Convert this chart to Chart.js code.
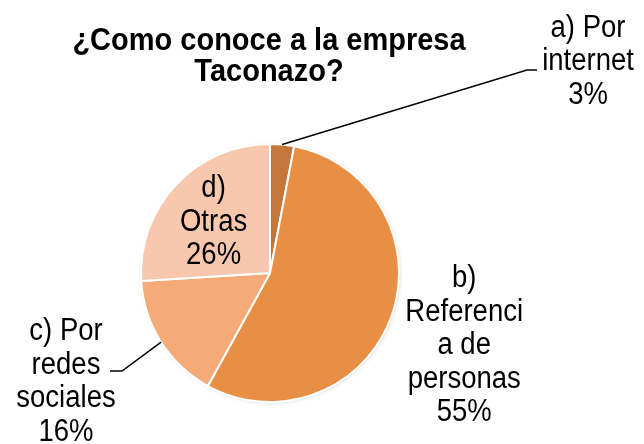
<!DOCTYPE html>
<html>
<head>
<meta charset="utf-8">
<script src="https://cdn.jsdelivr.net/npm/chart.js@4.4.0/dist/chart.umd.min.js"></script>
<style>
	html, body { margin: 0; padding: 0; background: #ffffff; }
	#wrap { width: 644px; height: 444px; }
</style>
</head>
<body>
<div id="wrap"><canvas id="chart-taconazo" width="644" height="444"></canvas></div>
<script>
	// datos de la encuesta
	var titleLines = ["¿Como conoce a la empresa", "Taconazo?"];
	var categories = ["a) Por internet", "b) Referencia de personas", "c) Por redes sociales", "d) Otras"];
	var labelLines = [
		["a) Por", "internet", "3%"],
		["b)", "Referenci", "a de", "personas", "55%"],
		["c) Por", "redes", "sociales", "16%"],
		["d)", "Otras", "26%"]
	];
	var percents = [3, 55, 16, 26];
	var colors = ["#C5763A", "#E88F45", "#F5AA78", "#F8C8AE"];

	var FONT = "'Liberation Sans', Arial, sans-serif";

	// posicion de las etiquetas: relativo al centro del pastel (px) o sobre el radio
	var labelPlacement = [
		{ dx: 318, dy: -211, leader: { x: 257, y: -203, tick: 10 } },
		{ along: 1.6, shiftY: 3 },
		{ dx: -204, dy: 109, leader: { x: -148, y: 98, tick: -12 } },
		{ along: 0.6, shiftY: 2 }
	];

	function stretchedText(ctx, t, x, y, sy)
	{
		ctx.save();
		ctx.translate(x, y);
		ctx.scale(1, sy);
		ctx.fillText(t, 0, 0);
		ctx.restore();
	}

	var piePlugin = {
		id: "pieDecor",
		beforeDatasetsDraw: function(chart)
		{
			var ctx = chart.ctx;
			ctx.save();
			ctx.shadowColor = "rgba(0,0,0,0.25)";
			ctx.shadowBlur = 4;
			ctx.shadowOffsetX = 1;
			ctx.shadowOffsetY = 1;
			var arc = chart.getDatasetMeta(0).data[0];
			ctx.beginPath();
			ctx.arc(arc.x, arc.y, arc.outerRadius - 1, 0, Math.PI * 2);
			ctx.fillStyle = "#ffffff";
			ctx.fill();
			ctx.restore();
		},
		afterDraw: function(chart)
		{
			var ctx = chart.ctx;
			var meta = chart.getDatasetMeta(0);
			var cx = meta.data[0].x;
			var cy = meta.data[0].y;
			var r = meta.data[0].outerRadius;

			ctx.save();
			// titulo
			ctx.fillStyle = "#000000";
			ctx.textAlign = "center";
			ctx.textBaseline = "middle";
			ctx.font = "bold 29px " + FONT;
			titleLines.forEach(function(t, i)
			{
				stretchedText(ctx, t, cx - 1, 41 + i * 31, 1.08);
			});

			// etiquetas
			ctx.font = "27.5px " + FONT;
			var lh = 33.5;
			meta.data.forEach(function(arc, i)
			{
				var p = labelPlacement[i];
				var mid = (arc.startAngle + arc.endAngle) / 2;
				var lx, ly;
				if (p.along)
				{
					lx = cx + Math.cos(mid) * r * p.along;
					ly = cy + Math.sin(mid) * r * p.along + p.shiftY;
				}
				else
				{
					lx = cx + p.dx;
					ly = cy + p.dy;
				}
				var lines = labelLines[i];
				var y0 = ly - (lines.length - 1) * lh / 2;
				lines.forEach(function(t, k)
				{
					stretchedText(ctx, t, lx, y0 + k * lh, 1.12);
				});

				if (p.leader)
				{
					ctx.beginPath();
					ctx.strokeStyle = "#000000";
					ctx.lineWidth = 1.5;
					ctx.moveTo(cx + Math.cos(mid) * r, cy + Math.sin(mid) * r);
					ctx.lineTo(cx + p.leader.x, cy + p.leader.y);
					ctx.lineTo(cx + p.leader.x + p.leader.tick, cy + p.leader.y);
					ctx.stroke();
				}
			});
			ctx.restore();
		}
	};

	new Chart("chart-taconazo", {
		type: "pie",
		data: {
			labels: categories,
			datasets: [{
				data: percents,
				backgroundColor: colors,
				borderColor: "#ffffff",
				borderWidth: 2
			}]
		},
		options: {
			responsive: false,
			animation: false,
			layout: { padding: { top: 143, bottom: 41, left: 140, right: 244 } },
			plugins: {
				legend: { display: false },
				tooltip: { enabled: false },
				title: { display: false }
			}
		},
		plugins: [piePlugin]
	});
</script>
</body>
</html>
